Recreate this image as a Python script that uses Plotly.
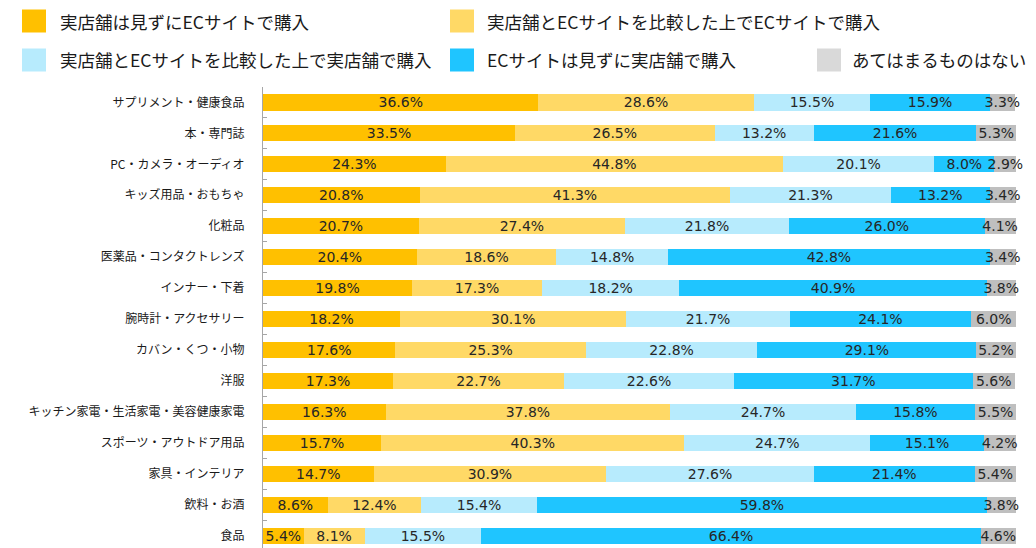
import plotly.graph_objects as go

categories = ["サプリメント・健康食品", "本・専門誌", "PC・カメラ・オーディオ", "キッズ用品・おもちゃ",
              "化粧品", "医薬品・コンタクトレンズ", "インナー・下着", "腕時計・アクセサリー",
              "カバン・くつ・小物", "洋服", "キッチン家電・生活家電・美容健康家電",
              "スポーツ・アウトドア用品", "家具・インテリア", "飲料・お酒", "食品"]

series_names = ["実店舗は見ずにECサイトで購入", "実店舗とECサイトを比較した上でECサイトで購入",
                "実店舗とECサイトを比較した上で実店舗で購入", "ECサイトは見ずに実店舗で購入",
                "あてはまるものはない"]

s1 = [36.6, 33.5, 24.3, 20.8, 20.7, 20.4, 19.8, 18.2, 17.6, 17.3, 16.3, 15.7, 14.7, 8.6, 5.4]
s2 = [28.6, 26.5, 44.8, 41.3, 27.4, 18.6, 17.3, 30.1, 25.3, 22.7, 37.8, 40.3, 30.9, 12.4, 8.1]
s3 = [15.5, 13.2, 20.1, 21.3, 21.8, 14.8, 18.2, 21.7, 22.8, 22.6, 24.7, 24.7, 27.6, 15.4, 15.5]
s4 = [15.9, 21.6, 8.0, 13.2, 26.0, 42.8, 40.9, 24.1, 29.1, 31.7, 15.8, 15.1, 21.4, 59.8, 66.4]
s5 = [3.3, 5.3, 2.9, 3.4, 4.1, 3.4, 3.8, 6.0, 5.2, 5.6, 5.5, 4.2, 5.4, 3.8, 4.6]

bar_colors = ["#FFC000", "#FFD966", "#B7EBFD", "#1FC5FF", "#BFBFBF"]
legend_colors = ["#FFC000", "#FFD966", "#B7EBFD", "#1FC5FF", "#D9D9D9"]

FONT = "Noto Sans CJK JP"
NUMFONT = "DejaVu Sans"
W, H = 1036, 548
L, R, T, B = 263, 19, 87, 0

fig = go.Figure()
for name, vals, col in zip(series_names, [s1, s2, s3, s4, s5], bar_colors):
    fig.add_trace(go.Bar(
        y=categories, x=vals, orientation="h", name=name,
        marker=dict(color=col, line=dict(width=0)),
        text=[f"{v:.1f}%" for v in vals], textposition="inside",
        insidetextanchor="middle", constraintext="none",
        textfont=dict(family=NUMFONT, size=14, color="#262626"),
        showlegend=False, cliponaxis=False,
    ))

fig.update_layout(
    barmode="stack", bargap=0.48,
    width=W, height=H,
    margin=dict(l=L, r=R, t=T, b=B, pad=0, autoexpand=False),
    plot_bgcolor="white", paper_bgcolor="white",
    uniformtext=dict(minsize=14, mode="show"),
    font=dict(family=FONT, color="#262626"),
)
fig.update_xaxes(range=[0, 100.2], showgrid=False, showticklabels=False, zeroline=False,
                 showline=False, ticks="", automargin=False)
fig.update_yaxes(categoryorder="array", categoryarray=categories, automargin=False,
                 range=[14.4, -0.5], showgrid=False, showline=True, linecolor="#A6A6A6",
                 linewidth=1, ticks="inside", tickson="boundaries", ticklen=4,
                 tickcolor="#A6A6A6", tickfont=dict(family=FONT, size=12, color="#1a1a1a"),
                 ticklabelstandoff=15)

pw = W - L - R
ph = H - T - B

def px_x(p):
    return (p - L) / pw

def px_y(p):
    return (H - B - p) / ph

legend_pos = [(22, 58, 21), (450, 485, 21), (22, 58, 60), (450, 485, 60), (817, 850, 60)]
for name, col, (sx, tx, cy) in zip(series_names, legend_colors, legend_pos):
    fig.add_shape(type="rect", xref="paper", yref="paper",
                  x0=px_x(sx), x1=px_x(sx + 24), y0=px_y(cy - 11.5), y1=px_y(cy + 11.5),
                  fillcolor=col, line=dict(width=0))
    fig.add_annotation(xref="paper", yref="paper", x=px_x(tx), y=px_y(cy),
                       text=name, showarrow=False, xanchor="left", yanchor="middle",
                       font=dict(family=FONT, size=17.5, color="#1a1a1a"))

fig.write_html("out.html", config={"displayModeBar": False},
               post_script="document.body.style.margin='0';document.body.style.overflow='hidden';")
